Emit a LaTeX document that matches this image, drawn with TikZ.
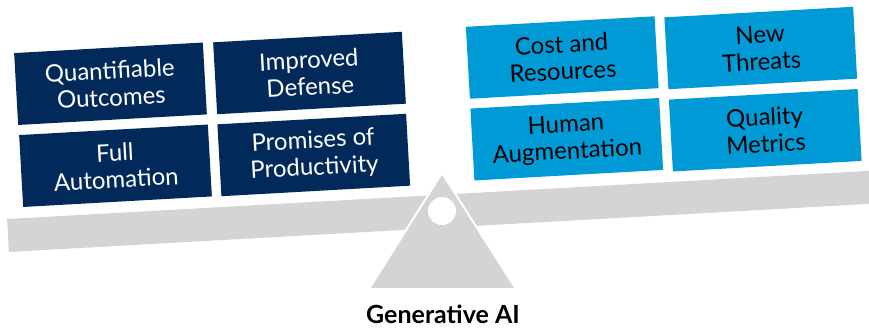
\documentclass[tikz,border=0pt]{standalone}
\usepackage{fontspec}
\setmainfont{Lato}
\definecolor{navy}{HTML}{012A5A}
\definecolor{skyblue}{HTML}{009BD6}
\definecolor{beamgray}{HTML}{D4D4D4}
\begin{document}
\begin{tikzpicture}[x=1pt, y=-1pt,
        box/.style={minimum width=189pt, minimum height=72pt, inner sep=0pt, align=center,
            font=\fontsize{24}{27}\selectfont, rotate=3.2},
        pro/.style={box, fill=navy, text=white},
        con/.style={box, fill=skyblue, text=black}]
        \useasboundingbox (0,0) rectangle (869,327);
        \clip (0,0) rectangle (869,327);

        % beam and fulcrum
        \fill [beamgray, rotate around={3.2:(8,235.5)}] (8,219) rectangle (920,252);
        \filldraw [beamgray, draw=white, line width=2pt] (442,173) -- (516,289) -- (369,289) -- cycle;
        \fill [white] (442,211) circle [radius=14pt];

        % left pan
        \node [pro] (quant) at (110.5,83.75) {Quantifiable\\Outcomes};
        \node [pro] (defense) at (309.5,73) {Improved\\Defense};
        \node [pro] (auto) at (115.5,165.75) {Full\\Automation};
        \node [pro] (prod) at (313.75,155) {Promises of\\Productivity};

        % right pan
        \node [con] (cost) at (562.25,57.5) {Cost and\\Resources};
        \node [con] (threat) at (760.75,48) {New\\Threats};
        \node [con] (human) at (566.75,139.25) {Human\\Augmentation};
        \node [con] (metric) at (765.25,130.25) {Quality\\Metrics};

        \node [anchor=base, font=\bfseries\fontsize{25}{25}\selectfont] (genai) at (443,323) {Generative AI};
    \end{tikzpicture}
\end{document}
